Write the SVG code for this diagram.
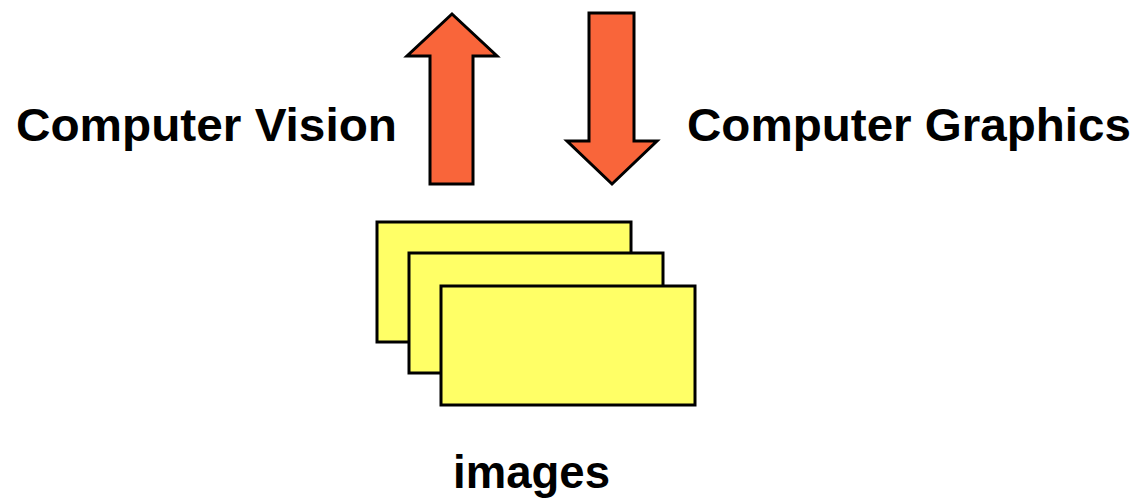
<svg xmlns="http://www.w3.org/2000/svg" width="1140" height="499" viewBox="0 0 1140 499">
<style>
.arrow{fill:#F9653A;stroke:#000;stroke-width:3;stroke-linejoin:miter}
.card{fill:#FFFF66;stroke:#000;stroke-width:3}
.lbl{font-family:"Liberation Sans",Arial,sans-serif;font-weight:bold;font-size:47px;fill:#000}
</style>
<rect width="1140" height="499" fill="#fff"/>
<g id="connectors">
<polygon class="arrow" points="452,14 497,56 473,56 473,184 430,184 430,56 407,56"/>
<polygon class="arrow" points="589,13 634,13 634,141 657,141 612,184 567,141 589,141"/>
</g>
<g id="images-node">
<rect class="card" x="377" y="222" width="254" height="120"/>
<rect class="card" x="409" y="253" width="254" height="120"/>
<rect class="card" x="441" y="286" width="254" height="119"/>
</g>
<g id="label-cv"><text class="lbl" x="16" y="141" textLength="381" lengthAdjust="spacingAndGlyphs">Computer Vision</text></g>
<g id="label-cg"><text class="lbl" x="687" y="141" textLength="444" lengthAdjust="spacingAndGlyphs">Computer Graphics</text></g>
<g id="label-images"><text class="lbl" x="453" y="488" font-size="47" textLength="157" lengthAdjust="spacingAndGlyphs">images</text></g>
</svg>
